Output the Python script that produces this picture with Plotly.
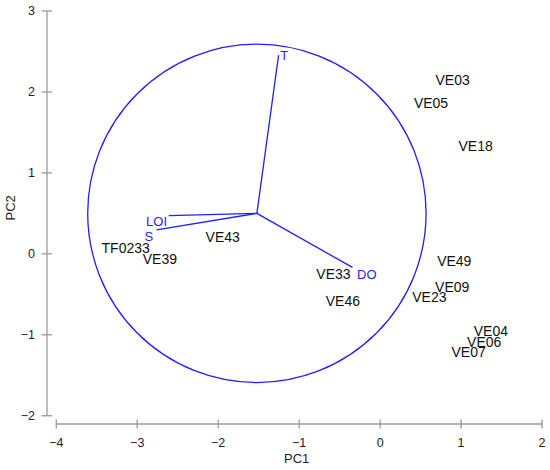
import plotly.graph_objects as go

# Sample scores (label positions)
sample_names = ["VE03", "VE05", "VE18", "VE49", "VE09", "VE23", "VE04", "VE06", "VE07",
                "VE33", "VE46", "VE43", "TF0233", "VE39"]
sample_pc1 = [0.896, 0.629, 1.180, 0.916, 0.891, 0.608, 1.368, 1.286, 1.093,
              -0.576, -0.460, -1.944, -3.143, -2.721]
sample_pc2 = [2.135, 1.840, 1.315, -0.107, -0.434, -0.557, -0.975, -1.103, -1.233,
              -0.270, -0.606, 0.184, 0.058, -0.086]

# Variable loadings (segment end points) and their label positions
var_names = ["T", "LOI", "S", "DO"]
var_end_pc1 = [-1.254, -2.610, -2.761, -0.341]
var_end_pc2 = [2.455, 0.471, 0.295, -0.168]
var_lab_pc1 = [-1.183, -2.761, -2.856, -0.164]
var_lab_pc2 = [2.434, 0.385, 0.200, -0.270]

origin_pc1 = -1.522
origin_pc2 = 0.500
circle_radius = 2.09

x_ticks = [-4, -3, -2, -1, 0, 1, 2]
y_ticks = [-2, -1, 0, 1, 2, 3]

BLUE = "#1f1fff"
AXIS = "#9a9a9a"
FONT = "Arial, Liberation Sans, Helvetica, sans-serif"

W, H = 550, 470
ML, MR, MT, MB = 47, 4, 5, 46
plot_w = W - ML - MR
plot_h = H - MT - MB

fig = go.Figure()

# loading segments
seg_x, seg_y = [], []
for ex, ey in zip(var_end_pc1, var_end_pc2):
    seg_x += [origin_pc1, ex, None]
    seg_y += [origin_pc2, ey, None]
fig.add_trace(go.Scatter(x=seg_x, y=seg_y, mode="lines",
                         line=dict(color=BLUE, width=1.3), hoverinfo="skip",
                         showlegend=False))

fig.add_trace(go.Scatter(x=var_lab_pc1, y=var_lab_pc2, mode="text", text=var_names,
                         textposition="middle center",
                         textfont=dict(family=FONT, size=13, color=BLUE),
                         showlegend=False))

fig.add_trace(go.Scatter(x=sample_pc1, y=sample_pc2, mode="text", text=sample_names,
                         textposition="middle center",
                         textfont=dict(family=FONT, size=14, color="#111111"),
                         showlegend=False))

shapes = [dict(type="circle", xref="x", yref="y",
               x0=origin_pc1 - circle_radius, x1=origin_pc1 + circle_radius,
               y0=origin_pc2 - circle_radius, y1=origin_pc2 + circle_radius,
               line=dict(color=BLUE, width=1.3), layer="below")]

# R-style detached axes
shapes.append(dict(type="line", xref="x", yref="paper", x0=x_ticks[0], x1=x_ticks[-1],
                   y0=0, y1=0, line=dict(color=AXIS, width=1.3)))
for t in x_ticks:
    shapes.append(dict(type="line", xref="x", yref="paper", x0=t, x1=t,
                       y0=-4.5 / plot_h, y1=4.5 / plot_h, line=dict(color=AXIS, width=1.3)))
shapes.append(dict(type="line", xref="paper", yref="y", x0=0, x1=0,
                   y0=y_ticks[0], y1=y_ticks[-1], line=dict(color=AXIS, width=1.3)))
for t in y_ticks:
    shapes.append(dict(type="line", xref="paper", yref="y", y0=t, y1=t,
                       x0=-5.5 / plot_w, x1=5.0 / plot_w, line=dict(color=AXIS, width=1.3)))

x_left = -4 - 9.3 / 81.12
y_bottom = -2 - 8.3 / 81.34

fig.update_layout(
    width=W, height=H,
    margin=dict(l=ML, r=MR, t=MT, b=MB, pad=0),
    paper_bgcolor="white", plot_bgcolor="white",
    shapes=shapes,
    showlegend=False,
    xaxis=dict(range=[x_left, x_left + plot_w / 81.12], tickvals=x_ticks,
               showgrid=False, zeroline=False, showline=False, ticks="",
               ticklabelstandoff=9,
               tickfont=dict(family=FONT, size=12.5, color="#222222")),
    yaxis=dict(range=[y_bottom, y_bottom + plot_h / 81.34], tickvals=y_ticks,
               showgrid=False, zeroline=False, showline=False, ticks="",
               ticklabelstandoff=11,
               tickfont=dict(family=FONT, size=12.5, color="#222222")),
    annotations=[
        dict(text="PC1", xref="paper", yref="paper", x=0.5, y=0, yanchor="middle",
             xanchor="center", yshift=-34, showarrow=False,
             font=dict(family=FONT, size=13, color="#222222")),
        dict(text="PC2", xref="paper", yref="paper", x=0, y=0.5, xanchor="center",
             yanchor="middle", xshift=-37, yshift=7, textangle=-90, showarrow=False,
             font=dict(family=FONT, size=13, color="#222222")),
    ],
)

fig.write_html("out.html", config={"displayModeBar": False},
               post_script="document.body.style.margin='0px';document.body.style.overflow='hidden';")
